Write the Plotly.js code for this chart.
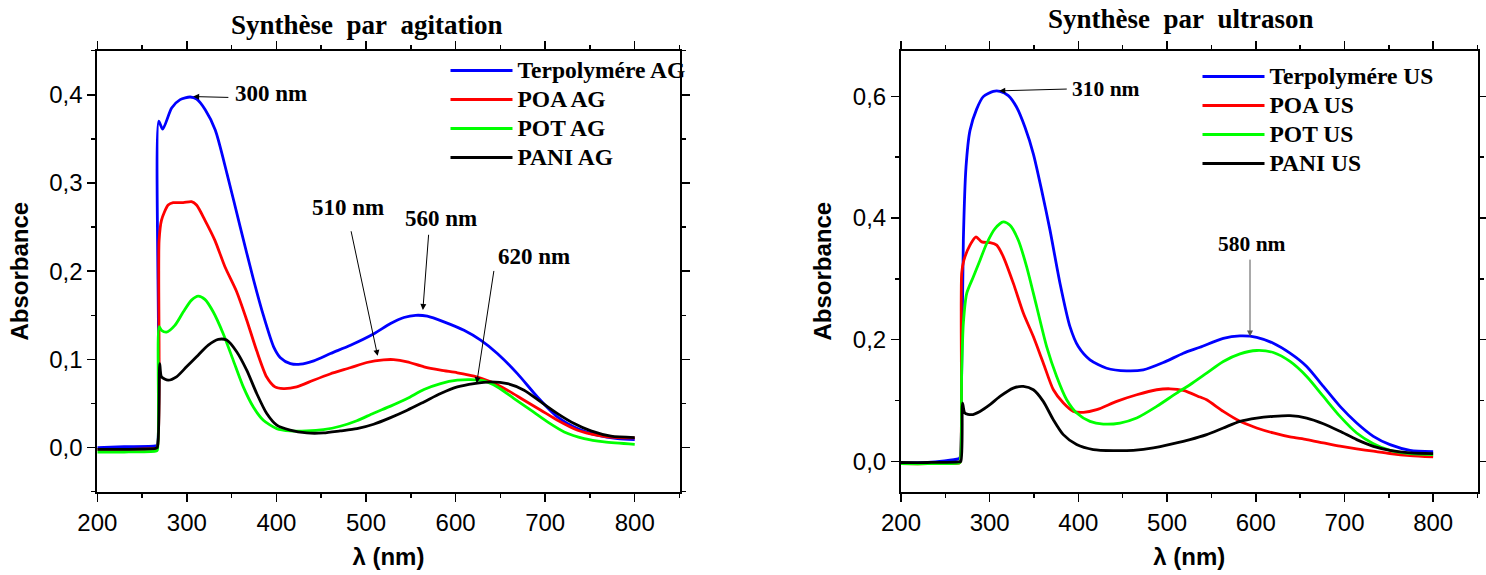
<!DOCTYPE html>
<html>
<head>
<meta charset="utf-8">
<script src="https://cdn.plot.ly/plotly-3.0.1.min.js"></script>
<style>html,body{margin:0;padding:0;background:#fff;}#chart{width:1486px;height:575px;}</style>
</head>
<body>
<div id="chart"></div>
<script>
// ---------- DATA ----------
// Left panel: "Synthèse par agitation"
const wlTerpoAG = [200, 230, 265, 267, 268.5, 273, 283, 292.5, 303.7, 311, 320.5, 331.7, 344.7, 359.6, 374.5, 385.7, 397, 404.4, 415.6, 426.8, 441.7, 460.3, 482.7, 508.8, 527.4, 542.3, 555.4, 568.4, 587, 609.4, 628, 646.6, 669, 691.4, 713.7, 736.1, 758.5, 780.9, 800];
const absTerpoAG = [0.000, 0.001, 0.002, 0.003, 0.370, 0.361, 0.385, 0.3945, 0.3975, 0.395, 0.383, 0.360, 0.311, 0.250, 0.190, 0.149, 0.114, 0.102, 0.0953, 0.0946, 0.0984, 0.1067, 0.116, 0.129, 0.1407, 0.1475, 0.150, 0.149, 0.1426, 0.133, 0.1218, 0.1067, 0.0839, 0.0574, 0.0348, 0.0215, 0.014, 0.0102, 0.0091];

const wlPOAAG = [200, 230, 265, 267, 269, 271.7, 279.1, 284.7, 295.9, 305.2, 310.8, 320.1, 331.3, 342.5, 355.5, 366.7, 377.9, 389.1, 398.4, 407.7, 422.6, 441.3, 459.9, 482.3, 500.9, 519.6, 530.8, 546, 564.7, 583.3, 602, 620.6, 639.3, 657.9, 676.5, 695.2, 713.8, 736.2, 758.5, 780.9, 800];
const absPOAAG = [-0.002, -0.002, -0.001, 0.000, 0.235, 0.258, 0.275, 0.2777, 0.2777, 0.2789, 0.275, 0.258, 0.235, 0.205, 0.177, 0.145, 0.110, 0.080, 0.0688, 0.0669, 0.0688, 0.0764, 0.0835, 0.0905, 0.0965, 0.0995, 0.0998, 0.0973, 0.0916, 0.0878, 0.0848, 0.081, 0.0745, 0.0651, 0.0537, 0.0424, 0.031, 0.0197, 0.014, 0.0113, 0.011];

const wlPOTAG = [200, 230, 265, 267, 269, 271.7, 277.3, 286.6, 295.9, 305.2, 312.7, 320.1, 329.5, 340.6, 351.8, 363, 374.2, 385.4, 400.3, 415.2, 433.8, 452.5, 471.1, 489.8, 508.4, 527.4, 546, 564.7, 583.3, 602, 616.9, 631.8, 646.7, 665.3, 684, 702.6, 721.3, 743.6, 766, 800];
const absPOTAG = [-0.005, -0.005, -0.004, -0.003, 0.137, 0.133, 0.131, 0.1386, 0.1537, 0.1672, 0.1717, 0.168, 0.1537, 0.1291, 0.0989, 0.0688, 0.046, 0.031, 0.0215, 0.0189, 0.0189, 0.0204, 0.0242, 0.0305, 0.039, 0.047, 0.0556, 0.0658, 0.0726, 0.0764, 0.0771, 0.0756, 0.0688, 0.0556, 0.0424, 0.0292, 0.0178, 0.0102, 0.0064, 0.0037];

const wlPANIAG = [200, 230, 265, 267, 269.7, 271.7, 279.1, 288.4, 299.6, 310.8, 323.9, 335.1, 344.4, 355.6, 366.8, 378, 389.2, 400.4, 415.3, 433.9, 452.6, 471.2, 489.9, 508.5, 527.4, 546, 564.7, 583.3, 602, 620.6, 639.3, 657.9, 676.5, 695.2, 713.8, 732.4, 751.1, 773.5, 800];
const absPANIAG = [-0.002, -0.002, -0.001, 0.000, 0.0953, 0.0802, 0.0764, 0.0802, 0.0916, 0.103, 0.1162, 0.1227, 0.1219, 0.1087, 0.0878, 0.0613, 0.0386, 0.0254, 0.0197, 0.0166, 0.0166, 0.0189, 0.0215, 0.0265, 0.034, 0.0424, 0.0518, 0.0613, 0.0688, 0.0726, 0.0745, 0.0726, 0.0651, 0.0518, 0.0386, 0.0273, 0.0189, 0.0129, 0.0113];

// Right panel: "Synthèse par ultrason"
const wlTerpoUS = [200, 230, 264.6, 266.5, 268.4, 270.3, 273.3, 277.8, 285.3, 292.8, 304.1, 311.6, 321, 330.4, 339.8, 349.2, 358.6, 368, 379.3, 390.5, 399.9, 413.1, 431.9, 454.4, 473.2, 495.8, 518.3, 537.1, 563.4, 582.2, 601, 619.8, 638.6, 657.4, 676.2, 695, 713.8, 732.6, 751.4, 774, 800];
const absTerpoUS = [-0.003, -0.002, 0.004, 0.006, 0.145, 0.363, 0.484, 0.544, 0.579, 0.5995, 0.6083, 0.6083, 0.6012, 0.582, 0.549, 0.5055, 0.4454, 0.380, 0.2924, 0.2214, 0.1886, 0.1667, 0.153, 0.1486, 0.1503, 0.1623, 0.1776, 0.1875, 0.2022, 0.2061, 0.2039, 0.194, 0.1777, 0.1558, 0.123, 0.0902, 0.0629, 0.041, 0.0273, 0.018, 0.0159];

const wlPOAUS = [200, 230, 265, 266.5, 268.4, 271, 277.8, 284.6, 291, 300.4, 307.9, 315.4, 326.7, 338, 349.2, 360.5, 371.8, 383.1, 394.4, 405.6, 420.7, 443.2, 465.8, 488.3, 503.3, 518.3, 537.1, 544.6, 563.4, 582.2, 601, 619.8, 638.6, 657.4, 676.2, 695, 713.8, 732.6, 751.4, 774, 800];
const absPOAUS = [-0.004, -0.004, -0.003, -0.002, 0.309, 0.331, 0.3553, 0.3689, 0.3607, 0.3596, 0.3553, 0.3362, 0.2925, 0.2433, 0.205, 0.1613, 0.1176, 0.0958, 0.0821, 0.0804, 0.0848, 0.0985, 0.1094, 0.1176, 0.1192, 0.1165, 0.1056, 0.1011, 0.082, 0.0657, 0.0548, 0.0466, 0.04, 0.0357, 0.0302, 0.0248, 0.0204, 0.0166, 0.0128, 0.0095, 0.0073];

const wlPOTUS = [200, 230, 265, 266.5, 268.4, 270.3, 274.1, 281.6, 289.1, 296.6, 306, 315.4, 322.9, 332.3, 341.7, 353, 364.2, 375.5, 386.8, 398.1, 413.1, 428.1, 446.9, 465.7, 488.3, 510.8, 525.8, 544.6, 563.4, 582.2, 601, 619.8, 638.6, 657.4, 676.2, 695, 713.8, 732.6, 751.4, 774, 800];
const absPOTUS = [-0.004, -0.004, -0.003, -0.002, 0.145, 0.2268, 0.276, 0.3033, 0.3306, 0.358, 0.3826, 0.3935, 0.388, 0.3634, 0.3197, 0.254, 0.1886, 0.1394, 0.1012, 0.0793, 0.0656, 0.0612, 0.0629, 0.0711, 0.0902, 0.1121, 0.1258, 0.1449, 0.1641, 0.1766, 0.1821, 0.1788, 0.1641, 0.1394, 0.1066, 0.0738, 0.0465, 0.029, 0.018, 0.0126, 0.0109];

const wlPANIUS = [200, 230, 265, 267.5, 269.4, 272, 279.6, 289, 300.3, 311.6, 326.6, 337.9, 349.2, 360.4, 371.7, 383, 398, 416.8, 439.4, 461.9, 484.5, 507, 525.8, 544.6, 563.4, 582.2, 601, 619.8, 638.6, 657.4, 676.2, 695, 713.8, 732.6, 751.4, 774, 800];
const absPANIUS = [-0.002, -0.002, -0.001, 0.000, 0.0957, 0.0793, 0.0766, 0.082, 0.093, 0.1066, 0.1203, 0.1231, 0.1176, 0.0985, 0.0684, 0.0438, 0.0274, 0.0192, 0.0175, 0.0181, 0.0219, 0.029, 0.0356, 0.0438, 0.0548, 0.0657, 0.0711, 0.0739, 0.075, 0.0711, 0.0618, 0.0492, 0.0356, 0.0246, 0.018, 0.0137, 0.0126];

// Labels
const titleAG = "Synthèse\u00a0 par\u00a0 agitation";
const titleUS = "Synthèse\u00a0 par\u00a0 ultrason";
const namesAG = ["Terpolymére AG", "POA AG", "POT AG", "PANI AG"];
const namesUS = ["Terpolymére US", "POA US", "POT US", "PANI US"];
const seriesColors = ["#0000ff", "#ff0000", "#00ff00", "#000000"];
const xTitle = "λ (nm)";
const yTitle = "Absorbance";
// Peak annotations: [label, text x, text y, arrow tail x, tail y, head x, head y]
const peaksAG = [
  ["300 nm", 394, 0.401, 348, 0.397, 307, 0.398],
  ["510 nm", 480, 0.272, 483, 0.247, 513, 0.104],
  ["560 nm", 584, 0.260, 570, 0.243, 563.5, 0.156],
  ["620 nm", 687, 0.217, 643, 0.202, 623.6, 0.073]
];
const peaksUS = [
  ["310 nm", 431, 0.612, 388.6, 0.612, 310.8, 0.609],
  ["580 nm", 596, 0.357, 593.5, 0.334, 593.5, 0.205]
];

// ---------- LAYOUT ----------
const W = 1486, H = 575;
const fx = p => p / W;
const fy = p => 1 - p / H;
const SERIF = "'Liberation Serif', 'Times New Roman', Times, serif";
const SANS = "'Liberation Sans', Arial, Helvetica, sans-serif";

const xsAG = [wlTerpoAG, wlPOAAG, wlPOTAG, wlPANIAG];
const ysAG = [absTerpoAG, absPOAAG, absPOTAG, absPANIAG];
const xsUS = [wlTerpoUS, wlPOAUS, wlPOTUS, wlPANIUS];
const ysUS = [absTerpoUS, absPOAUS, absPOTUS, absPANIUS];

const legendTextPx = 23.5;
const lineStyle = c => ({color: c, width: 2.8, shape: 'spline', smoothing: 0.7});
const traces = [];
for (let i = 0; i < 4; i++) {
  traces.push({x: xsAG[i], y: ysAG[i], name: '<span style="font-size:' + legendTextPx + 'px">' + namesAG[i] + '</span>',
    type: 'scatter', mode: 'lines', line: lineStyle(seriesColors[i]), xaxis: 'x', yaxis: 'y', legend: 'legend'});
}
for (let i = 0; i < 4; i++) {
  traces.push({x: xsUS[i], y: ysUS[i], name: '<span style="font-size:' + legendTextPx + 'px">' + namesUS[i] + '</span>',
    type: 'scatter', mode: 'lines', line: lineStyle(seriesColors[i]), xaxis: 'x2', yaxis: 'y2', legend: 'legend2'});
}

function axisBase() {
  return {
    showline: true, linecolor: '#000', linewidth: 2, mirror: 'ticks',
    ticks: 'outside', ticklen: 8, tickwidth: 1.5, tickcolor: '#000',
    showgrid: false, zeroline: false,
    tickfont: {family: SANS, size: 24, color: '#000'},
    automargin: false
  };
}
const minorX = {dtick: 50, ticklen: 4, tickwidth: 1.5, tickcolor: '#000', ticks: 'outside', showgrid: false};
const axisTitleFont = {family: SANS, size: 24, weight: 'bold', color: '#000'};
const yDom = [fy(491.7), fy(50.7)];

const xaxis = Object.assign(axisBase(), {
  domain: [fx(97.3), fx(679.5)], range: [200, 850], tick0: 200, dtick: 100, anchor: 'y', minor: minorX,
  title: {text: xTitle, font: axisTitleFont, standoff: 14}
});
const yaxis = Object.assign(axisBase(), {
  domain: yDom, range: [-0.05, 0.45], tick0: 0, dtick: 0.1, tickformat: '.1f', anchor: 'x',
  minor: {dtick: 0.05, ticklen: 4, tickwidth: 1.5, tickcolor: '#000', ticks: 'outside', showgrid: false},
  title: {text: yTitle, font: axisTitleFont, standoff: 14}
});
const xaxis2 = Object.assign(axisBase(), {
  domain: [fx(901), fx(1477.5)], range: [200, 850], tick0: 200, dtick: 100, anchor: 'y2', minor: minorX,
  title: {text: xTitle, font: axisTitleFont, standoff: 14}
});
const yaxis2 = Object.assign(axisBase(), {
  domain: yDom, range: [-0.05, 0.675], tick0: 0, dtick: 0.2, tickformat: '.1f', anchor: 'x2',
  minor: {dtick: 0.1, ticklen: 4, tickwidth: 1.5, tickcolor: '#000', ticks: 'outside', showgrid: false},
  title: {text: yTitle, font: axisTitleFont, standoff: 14}
});

const annotations = [];
annotations.push({text: titleAG, xref: 'paper', yref: 'paper', x: fx(367.4), y: fy(25), xanchor: 'center', yanchor: 'middle',
  showarrow: false, font: {family: SERIF, size: 27, weight: 'bold', color: '#000'}});
annotations.push({text: titleUS, xref: 'paper', yref: 'paper', x: fx(1180.6), y: fy(19), xanchor: 'center', yanchor: 'middle',
  showarrow: false, font: {family: SERIF, size: 27, weight: 'bold', color: '#000'}});

function addPeaks(list, xr, yr, size, arrowColor) {
  list.forEach(p => {
    annotations.push({text: p[0], xref: xr, yref: yr, x: p[1], y: p[2], xanchor: 'center', yanchor: 'middle',
      showarrow: false, font: {family: SERIF, size: size, weight: 'bold', color: '#000'}});
    annotations.push({text: '', xref: xr, yref: yr, axref: xr, ayref: yr, x: p[5], y: p[6], ax: p[3], ay: p[4],
      showarrow: true, arrowhead: 2, arrowsize: 1.2, arrowwidth: 1, arrowcolor: arrowColor, standoff: 0, startstandoff: 0});
  });
}
addPeaks(peaksAG, 'x', 'y', 23, '#000');
addPeaks(peaksUS.slice(0, 1), 'x2', 'y2', 21.5, '#000');
addPeaks(peaksUS.slice(1), 'x2', 'y2', 21.5, '#555');

// legend font size sets the row pitch (~29 px); item text itself is drawn at legendTextPx
const legendFont = {family: SERIF, size: 20, weight: 'bold', color: '#000'};
const layout = {
  width: W, height: H,
  margin: {l: 0, r: 0, t: 0, b: 0},
  paper_bgcolor: '#fff', plot_bgcolor: '#fff',
  separators: ', ',
  showlegend: true,
  xaxis: xaxis, yaxis: yaxis, xaxis2: xaxis2, yaxis2: yaxis2,
  legend: {x: fx(445.5), y: fy(51), xanchor: 'left', yanchor: 'top', font: legendFont, bgcolor: 'rgba(0,0,0,0)',
    borderwidth: 0, itemwidth: 62, tracegroupgap: 0},
  legend2: {x: fx(1197.5), y: fy(57), xanchor: 'left', yanchor: 'top', font: legendFont, bgcolor: 'rgba(0,0,0,0)',
    borderwidth: 0, itemwidth: 62, tracegroupgap: 0},
  annotations: annotations
};

Plotly.newPlot('chart', traces, layout, {displayModeBar: false, staticPlot: true});
</script>
</body>
</html>
